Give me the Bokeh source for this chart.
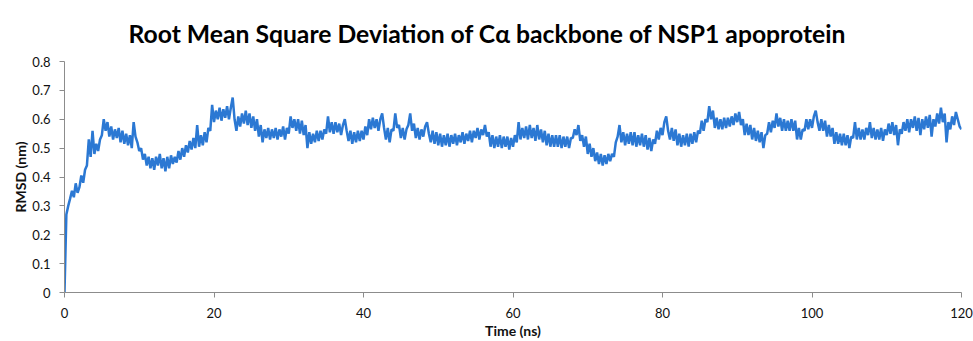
from bokeh.plotting import figure
from bokeh.models import Range1d, FixedTicker, Title
from bokeh.embed import file_html
from bokeh.resources import INLINE

# ---- data ----
TIME_STEP_NS = 0.25
rmsd_nm = [
    0.000, 0.270, 0.300, 0.325, 0.352, 0.330, 0.378, 0.345,
    0.365, 0.405, 0.380, 0.425, 0.440, 0.530, 0.470, 0.560,
    0.480, 0.515, 0.490, 0.530, 0.545, 0.600, 0.560, 0.590,
    0.540, 0.575, 0.530, 0.565, 0.535, 0.570, 0.520, 0.560,
    0.515, 0.550, 0.510, 0.545, 0.500, 0.590, 0.540, 0.520,
    0.490, 0.500, 0.460, 0.480, 0.440, 0.470, 0.430, 0.465,
    0.425, 0.470, 0.440, 0.480, 0.430, 0.465, 0.420, 0.470,
    0.430, 0.475, 0.445, 0.470, 0.450, 0.490, 0.460, 0.500,
    0.470, 0.510, 0.485, 0.525, 0.495, 0.535, 0.500, 0.580,
    0.505, 0.545, 0.510, 0.555, 0.520, 0.570, 0.560, 0.650,
    0.590, 0.630, 0.600, 0.640, 0.595, 0.635, 0.605, 0.645,
    0.600, 0.640, 0.675, 0.600, 0.560, 0.610, 0.575, 0.620,
    0.585, 0.630, 0.580, 0.620, 0.570, 0.610, 0.560, 0.600,
    0.540, 0.580, 0.520, 0.565, 0.535, 0.570, 0.530, 0.565,
    0.535, 0.570, 0.530, 0.565, 0.540, 0.575, 0.530, 0.570,
    0.550, 0.610, 0.570, 0.600, 0.560, 0.600, 0.550, 0.595,
    0.545, 0.580, 0.500, 0.555, 0.515, 0.550, 0.520, 0.560,
    0.525, 0.560, 0.530, 0.565, 0.550, 0.610, 0.555, 0.590,
    0.550, 0.590, 0.555, 0.585, 0.545, 0.580, 0.600, 0.560,
    0.525, 0.560, 0.515, 0.555, 0.520, 0.560, 0.525, 0.560,
    0.530, 0.575, 0.545, 0.600, 0.565, 0.605, 0.570, 0.600,
    0.560, 0.600, 0.620, 0.570, 0.530, 0.570, 0.520, 0.565,
    0.560, 0.620, 0.570, 0.580, 0.535, 0.570, 0.530, 0.565,
    0.580, 0.620, 0.560, 0.585, 0.535, 0.570, 0.530, 0.565,
    0.540, 0.575, 0.590, 0.550, 0.520, 0.560, 0.515, 0.555,
    0.510, 0.550, 0.505, 0.545, 0.510, 0.550, 0.505, 0.545,
    0.515, 0.550, 0.510, 0.545, 0.520, 0.555, 0.515, 0.550,
    0.525, 0.560, 0.520, 0.560, 0.535, 0.570, 0.530, 0.565,
    0.545, 0.580, 0.540, 0.555, 0.505, 0.545, 0.500, 0.540,
    0.505, 0.545, 0.500, 0.540, 0.505, 0.540, 0.495, 0.535,
    0.505, 0.545, 0.520, 0.590, 0.530, 0.570, 0.535, 0.575,
    0.530, 0.580, 0.535, 0.570, 0.525, 0.580, 0.530, 0.565,
    0.520, 0.560, 0.510, 0.550, 0.505, 0.545, 0.505, 0.545,
    0.505, 0.545, 0.500, 0.540, 0.505, 0.540, 0.500, 0.535,
    0.535, 0.565, 0.545, 0.580, 0.525, 0.545, 0.505, 0.540,
    0.480, 0.515, 0.470, 0.500, 0.455, 0.485, 0.445, 0.480,
    0.440, 0.475, 0.445, 0.480, 0.455, 0.480, 0.470, 0.520,
    0.540, 0.580, 0.520, 0.555, 0.510, 0.550, 0.515, 0.555,
    0.510, 0.555, 0.505, 0.545, 0.510, 0.550, 0.505, 0.545,
    0.495, 0.535, 0.490, 0.530, 0.515, 0.560, 0.530, 0.570,
    0.545, 0.590, 0.610, 0.560, 0.530, 0.570, 0.525, 0.565,
    0.510, 0.550, 0.505, 0.545, 0.510, 0.550, 0.505, 0.550,
    0.515, 0.555, 0.520, 0.560, 0.550, 0.595, 0.560, 0.600,
    0.590, 0.645, 0.600, 0.630, 0.570, 0.605, 0.565, 0.600,
    0.565, 0.605, 0.570, 0.605, 0.575, 0.610, 0.580, 0.620,
    0.590, 0.625, 0.580, 0.600, 0.545, 0.585, 0.545, 0.580,
    0.530, 0.570, 0.525, 0.560, 0.520, 0.555, 0.500, 0.545,
    0.550, 0.590, 0.555, 0.595, 0.570, 0.620, 0.575, 0.605,
    0.560, 0.600, 0.560, 0.595, 0.560, 0.600, 0.560, 0.595,
    0.530, 0.570, 0.530, 0.565, 0.560, 0.600, 0.565, 0.600,
    0.570, 0.610, 0.630, 0.590, 0.560, 0.600, 0.560, 0.595,
    0.540, 0.580, 0.540, 0.570, 0.515, 0.555, 0.515, 0.550,
    0.510, 0.550, 0.510, 0.545, 0.500, 0.540, 0.535, 0.590,
    0.530, 0.570, 0.530, 0.565, 0.530, 0.570, 0.545, 0.590,
    0.535, 0.570, 0.530, 0.565, 0.530, 0.570, 0.525, 0.565,
    0.545, 0.585, 0.550, 0.590, 0.545, 0.580, 0.510, 0.565,
    0.550, 0.590, 0.560, 0.600, 0.555, 0.600, 0.570, 0.610,
    0.560, 0.605, 0.545, 0.600, 0.565, 0.610, 0.570, 0.615,
    0.540, 0.600, 0.575, 0.620, 0.585, 0.640, 0.590, 0.620,
    0.520, 0.590, 0.565, 0.610, 0.580, 0.625, 0.600, 0.575,
    0.565,
]
time_ns = [i * TIME_STEP_NS for i in range(len(rmsd_nm))]

x_ticks = [0, 20, 40, 60, 80, 100, 120]
y_ticks = [0, 0.1, 0.2, 0.3, 0.4, 0.5, 0.6, 0.7, 0.8]
y_tick_labels = ["0", "0.1", "0.2", "0.3", "0.4", "0.5", "0.6", "0.7", "0.8"]

TITLE = "Root Mean Square Deviation of C\u03b1 backbone of NSP1 apoprotein"
X_LABEL = "Time (ns)"
Y_LABEL = "RMSD (nm)"

LINE_COLOR = "#2b78d3"
AXIS_COLOR = "#8c8c8c"
TEXT_COLOR = "#111111"
FONT = "Lato"

W, H = 973, 341
p = figure(width=W, height=H, output_backend="svg", toolbar_location=None,
           x_range=Range1d(0, 120), y_range=Range1d(0, 0.8),
           min_border_left=64, min_border_right=12,
           min_border_top=61, min_border_bottom=49)
p.outline_line_color = None
p.grid.grid_line_color = None

title = Title(text=TITLE, align="left", offset=64, vertical_align="top",
              text_font=FONT, text_font_size="24.7px",
              text_font_style="bold", text_color="#000000",
              standoff=24)
p.add_layout(title, "above")

p.line(time_ns, rmsd_nm, line_color=LINE_COLOR, line_width=2.5)

for ax in (p.xaxis[0], p.yaxis[0]):
    ax.axis_line_color = AXIS_COLOR
    ax.major_tick_line_color = AXIS_COLOR
    ax.minor_tick_line_color = None
    ax.major_tick_out = 5
    ax.major_tick_in = 0
    ax.major_label_text_font = FONT
    ax.major_label_text_font_size = "13px"
    ax.major_label_text_color = TEXT_COLOR
    ax.axis_label_text_font = FONT
    ax.axis_label_text_font_size = "14px"
    ax.axis_label_text_font_style = "bold"
    ax.axis_label_text_color = TEXT_COLOR

p.xaxis.ticker = FixedTicker(ticks=x_ticks)
p.yaxis.ticker = FixedTicker(ticks=y_ticks)
p.yaxis.major_label_overrides = {t: s for t, s in zip(y_ticks, y_tick_labels)}
p.xaxis.axis_label = X_LABEL
p.yaxis.axis_label = Y_LABEL
p.xaxis.major_label_standoff = 10
p.xaxis.axis_label_standoff = 1
p.yaxis.major_label_standoff = 9
p.yaxis.axis_label_standoff = 0

open("out.html", "w").write(file_html(p, INLINE))
